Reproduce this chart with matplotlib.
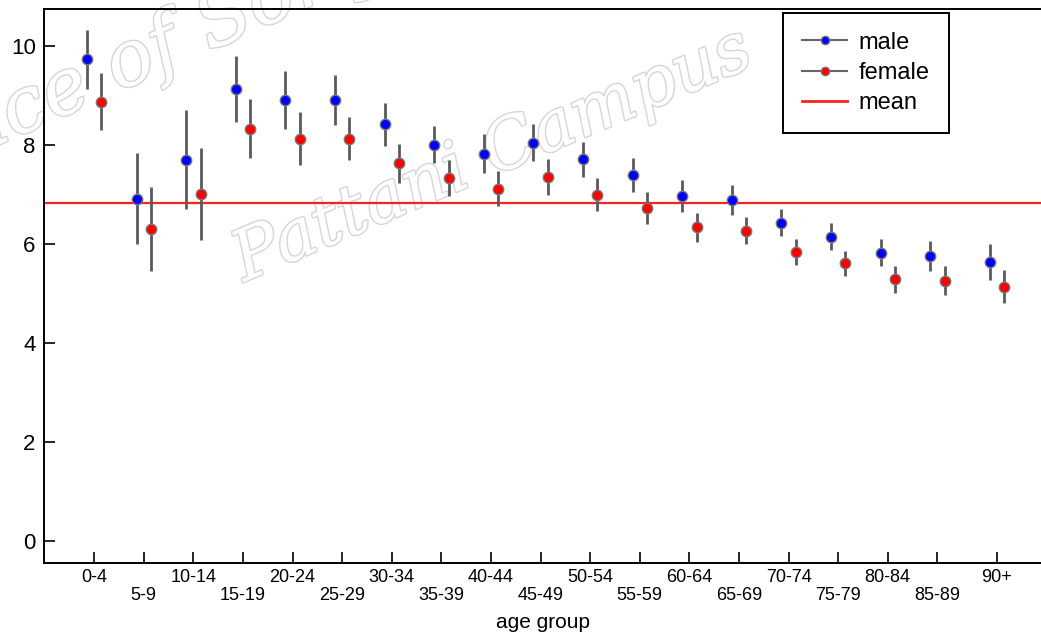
import matplotlib.pyplot as plt
import matplotlib.patheffects as pe
from matplotlib.lines import Line2D
import numpy as np

plt.rcParams['font.family'] = ['Liberation Sans', 'DejaVu Sans']

age_groups = ['0-4', '5-9', '10-14', '15-19', '20-24', '25-29', '30-34', '35-39',
              '40-44', '45-49', '50-54', '55-59', '60-64', '65-69', '70-74',
              '75-79', '80-84', '85-89', '90+']

male = [9.73, 6.92, 7.70, 9.14, 8.91, 8.91, 8.42, 8.01, 7.83, 8.05,
        7.71, 7.39, 6.97, 6.89, 6.43, 6.15, 5.83, 5.76, 5.64]
male_err = [0.60, 0.92, 1.00, 0.67, 0.58, 0.50, 0.43, 0.38, 0.39, 0.38,
            0.36, 0.34, 0.32, 0.31, 0.27, 0.27, 0.28, 0.30, 0.37]

female = [8.88, 6.30, 7.01, 8.33, 8.13, 8.13, 7.63, 7.33, 7.12, 7.36,
          7.00, 6.73, 6.34, 6.27, 5.84, 5.61, 5.29, 5.26, 5.14]
female_err = [0.58, 0.85, 0.93, 0.60, 0.54, 0.44, 0.39, 0.36, 0.35, 0.36,
              0.34, 0.33, 0.29, 0.27, 0.26, 0.25, 0.27, 0.29, 0.33]

mean_value = 6.84

x = np.arange(len(age_groups), dtype=float)
x[-1] += 0.2  # the open-ended group sits a little further right
off = 0.145

fig = plt.figure(figsize=(10.41, 6.37), dpi=100)
ax = fig.add_axes([0.0423, 0.1162, 0.9577, 0.8697])

# faint watermark
wm = dict(color='white', style='italic', family='DejaVu Serif',
          zorder=0, transform=ax.transAxes, ha='center', va='center',
          path_effects=[pe.withStroke(linewidth=2.0, foreground='#d6d6d6')])
ax.text(0.17, 0.97, 'ince of Songkla', rotation=24, fontsize=56, **wm)
ax.text(0.45, 0.735, 'Pattani Campus', rotation=23, fontsize=50, **wm)

ax.axhline(mean_value, color='#ff2020', lw=1.6, zorder=1)

ax.errorbar(x - off, male, yerr=male_err, fmt='o', ecolor='#5a5a5a',
            elinewidth=2.0, capsize=0, markersize=7.5, markerfacecolor='#0000ff',
            markeredgecolor='#777777', markeredgewidth=1.0, zorder=3)
ax.errorbar(x + off, female, yerr=female_err, fmt='o', ecolor='#5a5a5a',
            elinewidth=2.0, capsize=0, markersize=7.5, markerfacecolor='#ff0000',
            markeredgecolor='#777777', markeredgewidth=1.0, zorder=3)

ax.set_xlim(-1.01, 19.09)
ax.set_ylim(-0.44, 10.75)
ax.set_yticks([0, 2, 4, 6, 8, 10])

labels = [g if i % 2 == 0 else '\n' + g for i, g in enumerate(age_groups)]
ax.set_xticks(x)
ax.set_xticklabels(labels, fontsize=13, linespacing=1.15)
ax.tick_params(axis='x', direction='in', length=8, width=1.2, pad=4)
ax.tick_params(axis='y', direction='in', length=8, width=1.2, labelsize=16, pad=6)
ax.set_xlabel('age group', fontsize=15, labelpad=6)

for s in ['left', 'bottom', 'top']:
    ax.spines[s].set_linewidth(1.4)
ax.spines['right'].set_visible(False)

handles = [
    Line2D([], [], color='#666666', lw=1.5, marker='o', markersize=6,
           markerfacecolor='#0000ff', markeredgecolor='#777777'),
    Line2D([], [], color='#666666', lw=1.5, marker='o', markersize=6,
           markerfacecolor='#ff0000', markeredgecolor='#777777'),
    Line2D([], [], color='#ff2020', lw=2),
]
leg = ax.legend(handles, ['male', 'female', 'mean'], loc='upper right',
                bbox_to_anchor=(0.9075, 0.993), fontsize=17, fancybox=False,
                edgecolor='black', framealpha=1, handlelength=1.9, handletextpad=0.5,
                borderpad=0.8, labelspacing=0.35, borderaxespad=0)
leg.get_frame().set_linewidth(1.4)

fig.savefig('out.png', dpi=100)
